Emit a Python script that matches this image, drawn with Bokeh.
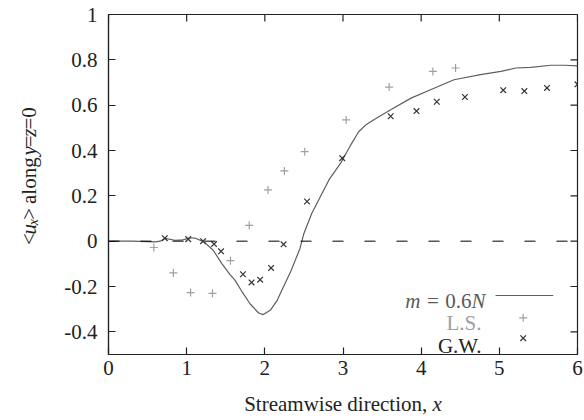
import math
from bokeh.plotting import figure
from bokeh.layouts import row, column
from bokeh.models import Span, Label, FixedTicker, Range1d
from bokeh.embed import file_html
from bokeh.resources import INLINE

# ---------------- data ----------------
line_x = [0, 0.3, 0.6, 0.66, 0.72, 0.85, 0.95, 1.05, 1.12, 1.22, 1.34, 1.45, 1.56, 1.62,
          1.71, 1.81, 1.92, 1.98, 2.07, 2.16, 2.24, 2.33, 2.45, 2.5, 2.6, 2.71, 2.82, 2.97,
          3.1, 3.2, 3.3, 3.4, 3.61, 3.87, 4.12, 4.42, 4.76, 5.02, 5.21, 5.4, 5.66, 5.83, 6.0]
line_y = [0, 0, -0.003, 0.0, 0.012, 0.004, 0.006, 0.015, 0.012, -0.003, -0.04, -0.099, -0.15, -0.173,
          -0.224, -0.276, -0.317, -0.324, -0.305, -0.26, -0.2, -0.135, -0.032, 0.034, 0.122, 0.196, 0.27, 0.344,
          0.425, 0.483, 0.515, 0.537, 0.58, 0.631, 0.668, 0.712, 0.735, 0.749, 0.764, 0.767, 0.776, 0.776, 0.773]

ls_x = [0.58, 0.83, 1.05, 1.33, 1.56, 1.8, 2.04, 2.25, 2.51, 3.04, 3.59, 4.15, 4.44]
ls_y = [-0.028, -0.14, -0.227, -0.23, -0.086, 0.07, 0.226, 0.31, 0.395, 0.535, 0.68, 0.749, 0.764]

gw_x = [0.72, 1.02, 1.21, 1.35, 1.44, 1.72, 1.83, 1.94, 2.08, 2.24, 2.54, 2.99, 3.61, 3.94, 4.2,
        4.56, 5.05, 5.32, 5.61, 6.0]
gw_y = [0.013, 0.009, 0.0, -0.013, -0.045, -0.146, -0.182, -0.17, -0.118, -0.014, 0.175, 0.366,
        0.551, 0.574, 0.615, 0.636, 0.666, 0.662, 0.676, 0.692]

x_ticks = [0, 1, 2, 3, 4, 5, 6]
x_tick_labels = ["0", "1", "2", "3", "4", "5", "6"]
y_ticks = [-0.4, -0.2, 0, 0.2, 0.4, 0.6, 0.8, 1]
y_tick_labels = ["-0.4", "-0.2", "0", "0.2", "0.4", "0.6", "0.8", "1"]

# ---------------- layout ----------------
YW = 60                      # width of the y-label strip
W = 524                      # main figure width
BL, BR, BT, BB = 48, 7, 14, 30
FW, FH = W - BL - BR, 340
H = BT + FH + BB             # main figure height
XH = 34                      # height of the x-label strip
FL = YW + BL                 # frame left in page pixels
X0, X1, Y0, Y1 = 0, 6, -0.5, 1
FONT = "Liberation Serif"
FS = 21
SUB = 14
INK = "#222222"

def dxp(px):
    return px / FW * (X1 - X0)

def dyp(px):
    return px / FH * (Y1 - Y0)

def pg_x(px):  # page pixel -> data
    return X0 + (px - FL) / FW * (X1 - X0)

def pg_y(py):
    return Y1 - (py - BT) / FH * (Y1 - Y0)

REG = {'<': .564, '>': .564, ' ': .25, 'a': .444, 'l': .278, 'o': .5, 'n': .5, 'g': .5,
       '=': .564, '0': .5, '.': .25, '6': .5, 'S': .556, 't': .278, 'r': .333, 'e': .444,
       'm': .778, 'w': .722, 'i': .278, 's': .389, 'd': .5, 'c': .444, ',': .25}
ITA = {'u': .5, 'x': .444, 'y': .444, 'z': .389, 'm': .722, 'N': .667}

def tw(s, size, italic=False):
    t = ITA if italic else REG
    return sum(t.get(c, .5) for c in s) * size

def lab(fig, x, y, text, size=FS, italic=False, color=INK, angle=0.0, align="left"):
    fig.add_layout(Label(x=x, y=y, text=text, angle=angle, text_font=FONT,
                         text_font_size=f"{size}px",
                         text_font_style="italic" if italic else "normal",
                         text_color=color, text_align=align, text_baseline="alphabetic"))

def pw(piece):
    s, sz, it, _off = piece[:4]
    return piece[4] if len(piece) > 4 else tw(s, sz, it)

def pieces_width(pieces):
    return sum(pw(pc) for pc in pieces)

def draw_pieces(fig, x, y, pieces, color=INK, vertical=False, sx=lambda v: v, sy=lambda v: v):
    """Draw rich-text pieces left to right (or bottom to top); whitespace only advances."""
    cur = 0.0
    for pc in pieces:
        s, sz, it, off = pc[:4]
        if s.strip():
            if vertical:
                lab(fig, x + sx(off), y + sy(cur), s, size=sz, italic=it, color=color,
                    angle=math.pi / 2)
            else:
                lab(fig, x + sx(cur), y - sy(off), s, size=sz, italic=it, color=color)
        cur += pw(pc)

def blank(width, height):
    f = figure(width=width, height=height, x_range=Range1d(0, width), y_range=Range1d(0, height),
               output_backend="svg", toolbar_location=None, x_axis_type=None, y_axis_type=None,
               min_border=0)
    f.outline_line_color = None
    f.xgrid.visible = False
    f.ygrid.visible = False
    return f

# ---------------- main plot ----------------
p = figure(width=W, height=H, x_range=Range1d(X0, X1), y_range=Range1d(Y0, Y1),
           output_backend="svg", toolbar_location=None,
           min_border_left=BL, min_border_right=BR, min_border_top=BT, min_border_bottom=BB)
p.xgrid.visible = False
p.ygrid.visible = False
p.outline_line_color = INK
p.outline_line_width = 1.2

for ax, ticks, labels, sto in ((p.xaxis[0], x_ticks, x_tick_labels, 6),
                               (p.yaxis[0], y_ticks, y_tick_labels, 11)):
    ax.ticker = FixedTicker(ticks=ticks)
    ax.major_label_overrides = dict(zip(ticks, labels))
    ax.axis_line_color = INK
    ax.axis_line_width = 1.2
    ax.major_tick_in = 7
    ax.major_tick_out = 0
    ax.major_tick_line_color = INK
    ax.major_tick_line_width = 1.2
    ax.minor_tick_line_color = None
    ax.major_label_text_font = FONT
    ax.major_label_text_font_size = f"{FS}px"
    ax.major_label_text_color = INK
    ax.major_label_standoff = sto

# mirrored ticks on the top and right borders
p.segment(x0=x_ticks, y0=[Y1] * len(x_ticks), x1=x_ticks, y1=[Y1 - dyp(7)] * len(x_ticks),
          line_color=INK, line_width=1.2)
p.segment(x0=[X1] * len(y_ticks), y0=y_ticks, x1=[X1 - dxp(7)] * len(y_ticks), y1=y_ticks,
          line_color=INK, line_width=1.2)

# zero dashed line
p.add_layout(Span(location=0, dimension="width", line_color="black", line_width=1,
                  line_dash="11 21"))

# series
p.line(line_x, line_y, line_color="#5e5e5e", line_width=1.2)
p.scatter(ls_x, ls_y, marker="cross", size=8, line_color="#a0a0a0", line_width=1.2)
p.scatter(gw_x, gw_y, marker="x", size=8, line_color="#333333", line_width=1.2)

# legend (gnuplot style: text right-aligned, sample on the right)
b1, b2, b3 = pg_y(300), pg_y(322.5), pg_y(345)
m_pieces = [("m", FS, True, 0), (" ", FS, False, 0, 6.5), ("=", FS, False, 0),
            (" ", FS, False, 0, 6.5), ("0.6", FS, False, 0), ("N", FS, True, 0)]
draw_pieces(p, pg_x(485) - dxp(pieces_width(m_pieces)), b1, m_pieces, color="#5a5a5a",
            sx=dxp, sy=dyp)
lab(p, pg_x(481), b2, "L.S.", color="#a0a0a0", align="right")
lab(p, pg_x(481), b3, "G.W.", color=INK, align="right")
p.line([pg_x(495), pg_x(552.7)], [pg_y(295), pg_y(295)], line_color="#5e5e5e", line_width=1.2)
p.scatter([pg_x(522.7)], [pg_y(317.3)], marker="cross", size=8, line_color="#a0a0a0", line_width=1.2)
p.scatter([pg_x(522.7)], [pg_y(337.7)], marker="x", size=8, line_color="#333333", line_width=1.2)

# ---------------- y-axis label strip ----------------
yf = blank(YW, H)
y_pieces = [("<", FS, False, 0), ("u", FS, True, 0), ("x", SUB, True, 5),
            (">", FS, False, 0), (" ", FS, False, 0, 6), ("along", FS, False, 0),
            (" ", FS, False, 0, 8), ("y", FS, True, 0), ("=", FS, False, 0), ("z", FS, True, 0),
            ("=0", FS, False, 0)]
ytot = pieces_width(y_pieces)
draw_pieces(yf, 28, H - (BT + FH / 2) - ytot / 2, y_pieces, vertical=True)

# ---------------- x-axis label strip ----------------
xf = blank(YW + W, XH)
x_pieces = [("Streamwise direction,", FS, False, 0), (" ", FS, False, 0), ("x", FS, True, 0)]
xtot = pieces_width(x_pieces)
draw_pieces(xf, FL + FW / 2 - xtot / 2, H + XH - 403, x_pieces)

layout = column(row(yf, p, spacing=0), xf, spacing=0)
open("out.html", "w").write(file_html(layout, INLINE))
